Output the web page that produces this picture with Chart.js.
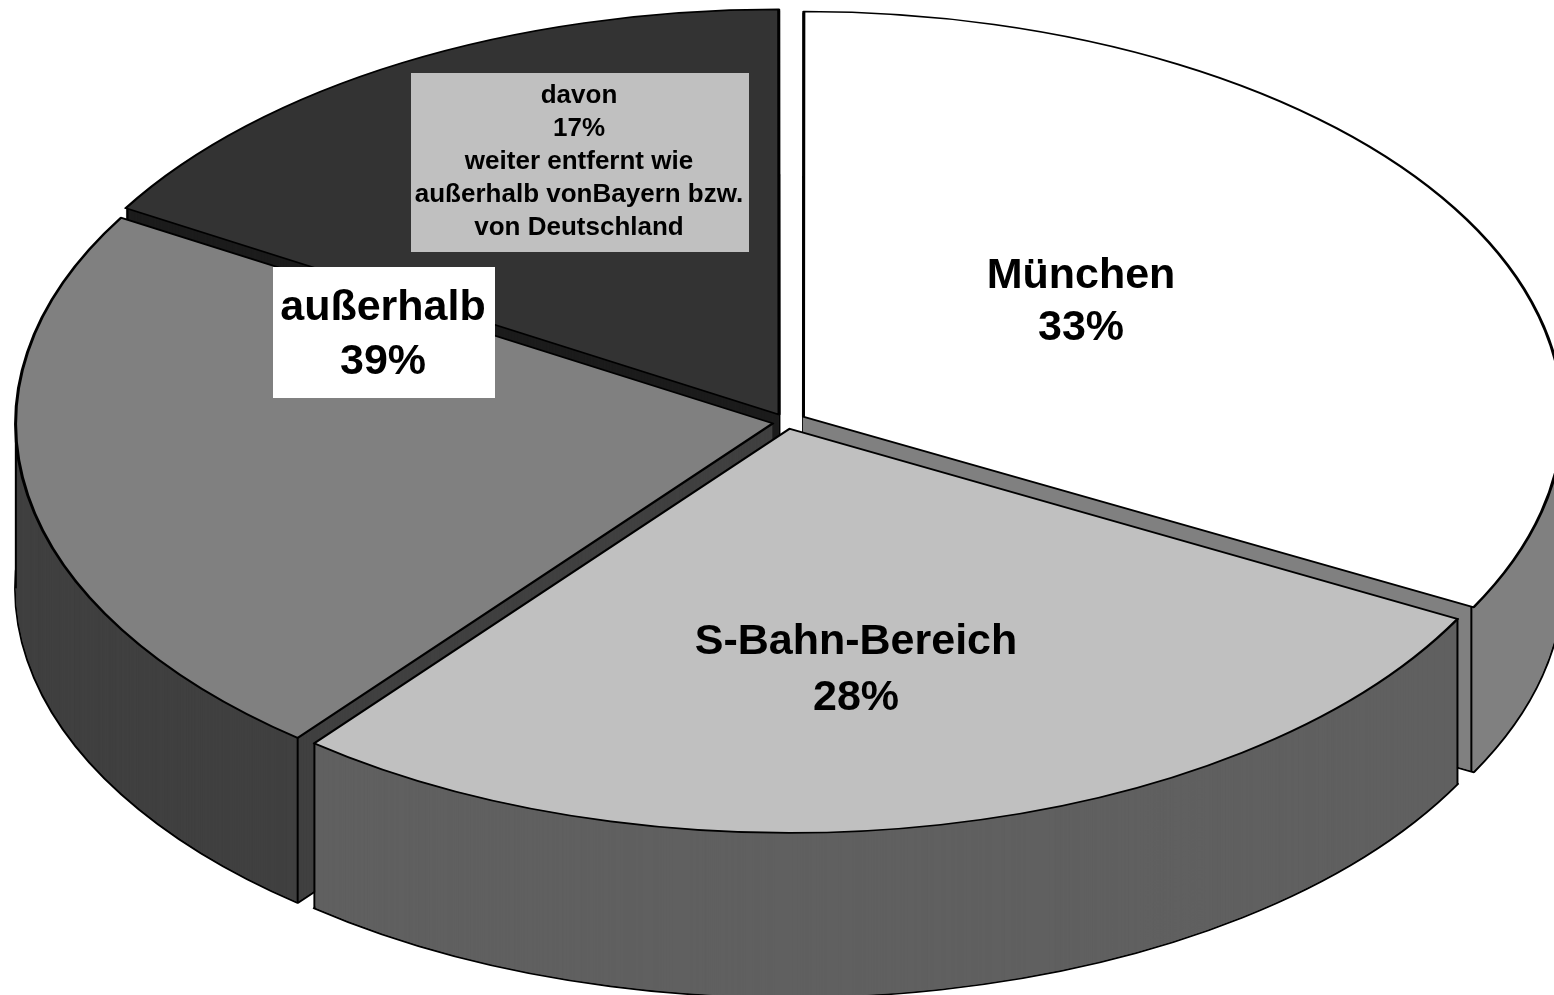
<!DOCTYPE html>
<html><head><meta charset="utf-8">
<style>html,body{margin:0;padding:0;background:#fff;overflow:hidden}canvas{display:block}</style>
<script src="https://cdn.jsdelivr.net/npm/chart.js@4"></script>
</head><body><canvas id="c" width="1554" height="995"></canvas>
<script>
const categories = ['München', 'S-Bahn-Bereich', 'außerhalb', 'davon weiter entfernt'];
const values = [32.8, 28, 22.7, 16.5];
const topColours = ['#ffffff', '#c0c0c0', '#808080', '#333333'];
const wallColours = ['#808080', '#606060', '#404040', '#1c1c1c'];
const explode = [48, 32, 36, 40];
const drawOrder = [3, 0, 2, 1];
const bigLabels = [
  {lines:['München','33%'], x:1081, y:[276,328]},
  {lines:['S-Bahn-Bereich','28%'], x:856, y:[642,698]},
  {lines:['außerhalb','39%'], x:383, y:[308,362], box:[273,267,222,131,'#ffffff']}
];
const noteLabel = {lines:['davon','17%','weiter entfernt wie','außerhalb vonBayern bzw.','von Deutschland'], x:579, y:[96,129,162,195,228], box:[411,73,338,179,'#c0c0c0']};
const centre = {x:787, y:422}, radii = {x:757, y:404}, depth = 165;

const pie3d = {
  id:'pie3d',
  beforeDatasetsDraw(chart){
    const ctx = chart.ctx, arcs = chart.getDatasetMeta(0).data, R = arcs[0].outerRadius;
    const sx = radii.x/R, sy = radii.y/R;
    const apply = (dy)=>{ctx.setTransform(sx,0,0,sy,centre.x-arcs[0].x*sx,centre.y+dy-arcs[0].y*sy);};
    const paint = (arc,fill,stroke,bw)=>{
      const o = arc.options;
      arc.options = {offset:o.offset,spacing:0,borderRadius:0,circular:true,borderAlign:'center',borderJoinStyle:'round',backgroundColor:fill,borderColor:stroke,borderWidth:bw};
      arc.draw(ctx);
      arc.options = o;
    };
    drawOrder.forEach(i=>{
      const arc = arcs[i], wall = wallColours[i];
      ctx.save();
      apply(depth); paint(arc,wall,'#000',1.9);
      for(let k=depth-1;k>0;k--){apply(k); paint(arc,wall,wall,0);}
      // vertical edges of the wall, derived from the arc element itself
      const mid=(arc.startAngle+arc.endAngle)/2, d=arc.options.offset/4;
      const ox=arc.x+Math.cos(mid)*d, oy=arc.y+Math.sin(mid)*d;
      const edges=[arc.startAngle,arc.endAngle];
      if(arc.startAngle<=Math.PI && arc.endAngle>=Math.PI) edges.push(Math.PI);
      edges.forEach(a=>{
        const px=ox+Math.cos(a)*R, py=oy+Math.sin(a)*R;
        ctx.setTransform(1,0,0,1,0,0);
        const X=px*sx+centre.x-arcs[0].x*sx, Y=py*sy+centre.y-arcs[0].y*sy;
        ctx.strokeStyle='#000';ctx.lineWidth=2;ctx.lineCap='butt';ctx.beginPath();ctx.moveTo(X,Y);ctx.lineTo(X,Y+depth);ctx.stroke();
      });
      apply(0); paint(arc,topColours[i],'#000',1.9);
      ctx.restore();
    });
    return false;
  },
  afterDraw(chart){
    const ctx = chart.ctx;
    const put=(l,font)=>{
      if(l.box){ctx.fillStyle=l.box[4];ctx.fillRect(l.box[0],l.box[1],l.box[2],l.box[3]);}
      ctx.fillStyle='#000';ctx.font=font;ctx.textAlign='center';ctx.textBaseline='middle';
      l.lines.forEach((t,i)=>ctx.fillText(t,l.x,l.y[i]));
    };
    ctx.save();
    bigLabels.forEach(l=>put(l,'bold 43px "Liberation Sans"'));
    put(noteLabel,'bold 26px "Liberation Sans"');
    ctx.restore();
  }
};
new Chart(document.getElementById('c'),{
  type:'pie',
  data:{labels:categories,datasets:[{data:values,backgroundColor:topColours,borderColor:'#000',borderWidth:1,offset:explode}]},
  options:{responsive:false,animation:false,events:[],layout:{padding:0},plugins:{legend:{display:false},tooltip:{enabled:false}}},
  plugins:[pie3d]
});
</script></body></html>
